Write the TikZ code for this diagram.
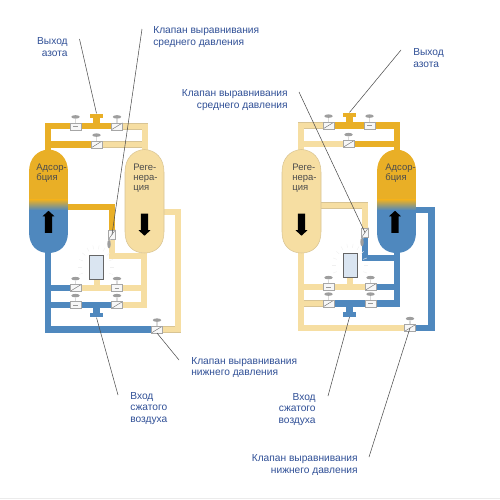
\documentclass[tikz,border=0pt]{standalone}
\usepackage{xcolor}
\usepackage{fontspec}
\setmainfont{Liberation Sans}
\usepackage{tikz}
\usetikzlibrary{positioning,shapes.geometric,shapes.arrows}
\definecolor{gasgold}{HTML}{E9AF26}
\definecolor{airblue}{HTML}{4F88BE}
\definecolor{purgelight}{HTML}{F6DEA2}
\definecolor{purgeedge}{HTML}{D8C494}
\definecolor{captionblue}{HTML}{2F4F96}
\definecolor{filterblue}{HTML}{DAE5F1}
\tikzset{
  goldpipe/.style={draw=gasgold, line width=1.25mm},
  bluepipe/.style={draw=airblue, line width=1.25mm},
  lightpipe/.style={draw=purgelight, line width=1.05mm,
    preaction={draw=purgeedge, line width=1.3mm}},
  tankpath/.style={insert path={
    (-19.5,172) .. controls (-19.5,158) and (-11,150) .. (0,149.5)
    .. controls (11,150) and (19.5,158) .. (19.5,172) -- (19.5,232)
    .. controls (19.5,246) and (11,253) .. (0,253)
    .. controls (-11,253) and (-19.5,246) .. (-19.5,232) -- cycle}},
  valve/.style={rectangle, draw=black!35, fill=black!3, minimum width=2.2mm,
    minimum height=1.35mm, inner sep=0pt, line width=0.2pt},
  valveopen/.style={valve, path picture={\draw[black!55, line width=0.25pt]
    (path picture bounding box.south west) -- (path picture bounding box.north east);}},
  valveshut/.style={valve, path picture={\draw[black!40, line width=0.25pt]
    ([xshift=-0.45mm]path picture bounding box.center) -- ([xshift=0.45mm]path picture bounding box.center);}},
  handle/.style={ellipse, fill=black!38, minimum width=1.7mm, minimum height=0.7mm,
    inner sep=0pt},
  stem/.style={draw=black!15, line width=0.7pt},
  filterbox/.style={draw=black!60, fill=filterblue, line width=0.4pt, minimum width=2.8mm,
    minimum height=4.8mm, inner sep=0pt},
  flange/.style={rectangle, minimum width=2.5mm, minimum height=0.9mm, inner sep=0pt},
  blockarrow/.style={single arrow, fill=black, minimum height=4.4mm, minimum width=2.3mm,
    single arrow head extend=0.45mm, single arrow tip angle=95,
    single arrow head indent=0pt, inner sep=0pt},
  caption/.style={font=\fontsize{5.8}{6.8}\selectfont, text=captionblue, inner sep=0pt},
  tanklabel/.style={font=\fontsize{5.4}{5.7}\selectfont, text=black!70, inner sep=0pt,
    anchor=north west, align=left},
  lead/.style={draw=black!70, line width=0.3pt},
  glow/.style={draw=black!6, line width=0.25pt}
}
\begin{document}
\begin{tikzpicture}[x=0.2mm,y=-0.2mm]
  \useasboundingbox (0,0) rectangle (500,500);
  \draw[draw=black!8, line width=0.2pt] (0,498) -- (500,498);

  % Left unit: pipes.
  \draw[goldpipe] (48,150) -- (48,126.3) -- (116,126.3)
    (48,144.5) -- (96,144.5) (66,207) -- (112,207) -- (112,232) (96.5,126.3) -- (96.5,116);
  \draw[bluepipe] (48,250) -- (48,329.5) -- (157,329.5)
    (48,288) -- (75,288) (48,305) -- (116,305) (96.5,305) -- (96.5,314);
  \draw[lightpipe] (116,126.3) -- (145,126.3) -- (145,152) (96,144.5) -- (142,144.5)
    (112,237) -- (112,256) -- (144,256) (144,250) -- (144,305) -- (116,305)
    (75,288) -- (144,288) (97,279) -- (97,288)
    (162,212) -- (178,212) -- (178,329.5) -- (157,329.5);

  % Right unit: pipes.
  \draw[goldpipe] (397,150) -- (397,125.5) -- (328,125.5)
    (348,144) -- (397,144) (349.5,125.5) -- (349.5,115);
  \draw[bluepipe] (365,232) -- (365,258) -- (397,258) (397,250) -- (397,303.5) -- (328,303.5)
    (370,287) -- (397,287) (349.5,303.5) -- (349.5,314)
    (414,210) -- (431.5,210) -- (431.5,328) -- (410,328);
  \draw[lightpipe] (301,152) -- (301,125.5) -- (328,125.5) (301,144) -- (348,144)
    (318,205.5) -- (365,205.5) -- (365,232)
    (301,250) -- (301,328) -- (410,328) (301,303.5) -- (328,303.5)
    (301,287) -- (370,287) (350,278) -- (350,287);

  % Tanks.
  \foreach \cx in {48.5,396.5}{
    \begin{scope}[shift={(\cx,0)}]
      \clip[tankpath];
      \fill[gasgold] (-20,145) rectangle (20,200);
      \shade[top color=gasgold, bottom color=airblue] (-20,199.8) rectangle (20,210.2);
      \fill[airblue] (-20,210) rectangle (20,256);
    \end{scope}
  }
  \foreach \cx in {144.5,301.5}{
    \path[shift={(\cx,0)}, fill=purgelight, draw=purgeedge, line width=0.3pt, tankpath];
  }
  \node[tanklabel] (adsL) at (36,164) {Адсор-\\бция};
  \node[tanklabel] (regL) at (133,164) {Реге-\\нера-\\ция};
  \node[tanklabel] (regR) at (292,164) {Реге-\\нера-\\ция};
  \node[tanklabel] (adsR) at (385,164) {Адсор-\\бция};
  \node[blockarrow, rotate=90] (upL) at (48.5,223.5) {\rule{0pt}{1.35mm}};
  \node[blockarrow, rotate=-90] (downL) at (144.5,223) {\rule{0pt}{1.35mm}};
  \node[blockarrow, rotate=-90] (downR) at (301.5,223) {\rule{0pt}{1.35mm}};
  \node[blockarrow, rotate=90] (upR) at (395,223.5) {\rule{0pt}{1.35mm}};

  % Filters and flanges.
  \foreach \x/\y in {96/267,350/265.5}{
    \foreach \a in {-200,-180,...,20}{
      \draw[glow] (\x,\y) ++(\a:14 and 18) -- ++(\a:4);
    }
  }
  \node[filterbox] (filterL) at (96,267) {};
  \node[filterbox] (filterR) at (350,265.5) {};
  \node[flange, fill=gasgold] (outL) at (96.5,116) {};
  \node[flange, fill=gasgold] (outR) at (349.5,115) {};
  \node[flange, fill=airblue] (inL) at (96.5,315) {};
  \node[flange, fill=airblue] (inR) at (349.5,314.5) {};

  % Valves.
  \foreach \n/\x/\y in {a/117/126.3,b/96.5/144.5,c/75.5/288,d/117/305,
    e/157/329.5,g/328.5/125.5,h/348.5/144,i/370.5/287,j/328.5/303.5,k/410/328}{
    \node[valveopen] (v\n) at (\x,\y) {};
    \node[handle, above=0.75mm of v\n] (h\n) {};
    \draw[stem] (v\n.north) -- (h\n.south);
  }
  \foreach \n/\x/\y in {p/75.5/126.3,q/117/288,r/75.5/305,s/369.5/125.5,t/328.5/287,u/370.5/303.5}{
    \node[valveshut] (v\n) at (\x,\y) {};
    \node[handle, above=0.75mm of v\n] (h\n) {};
    \draw[stem] (v\n.north) -- (h\n.south);
  }
  \foreach \n/\x/\y in {y/112/234.5,z/365/232.5}{
    \node[valveopen, rotate=90, minimum width=1.9mm] (v\n) at (\x,\y) {};
    \node[handle, rotate=90, left=0.6mm of v\n] (h\n) {};
    \draw[stem] (v\n) -- (h\n);
  }

  % Captions.
  \node[caption, align=right, anchor=east] (capA) at (68,47.5) {Выход\\азота};
  \node[caption, align=left, anchor=west] (capB) at (153,37) {Клапан выравнивания\\среднего давления};
  \node[caption, align=left, anchor=west] (capC) at (191,367.5) {Клапан выравнивания\\нижнего давления};
  \node[caption, align=left, anchor=west] (capD) at (130,408.5) {Вход\\сжатого\\воздуха};
  \node[caption, align=left, anchor=west] (capE) at (413,58) {Выход\\азота};
  \node[caption, align=right, anchor=east] (capF) at (288,100) {Клапан выравнивания\\среднего давления};
  \node[caption, align=right, anchor=east] (capG) at (316,409.5) {Вход\\сжатого\\воздуха};
  \node[caption, align=right, anchor=east] (capH) at (358,465) {Клапан выравнивания\\нижнего давления};

  \coordinate (leadA) at (79.5,39);
  \coordinate (leadB) at (142,29);
  \coordinate (leadC) at (179,360);
  \coordinate (leadD) at (118,395);
  \coordinate (leadE) at (401,50);
  \coordinate (leadF) at (299,92);
  \coordinate (leadG) at (328,396);
  \coordinate (leadH) at (369,457);
  \draw[lead] (leadA) -- (outL.north);
  \draw[lead] (leadB) -- (vy.center);
  \draw[lead] (leadC) -- (ve.south);
  \draw[lead] (leadD) -- (inL.south);
  \draw[lead] (leadE) -- (outR.north);
  \draw[lead] (leadF) -- (vz.center);
  \draw[lead] (leadG) -- (inR.south);
  \draw[lead] (leadH) -- (vk.center);
\end{tikzpicture}
\end{document}
